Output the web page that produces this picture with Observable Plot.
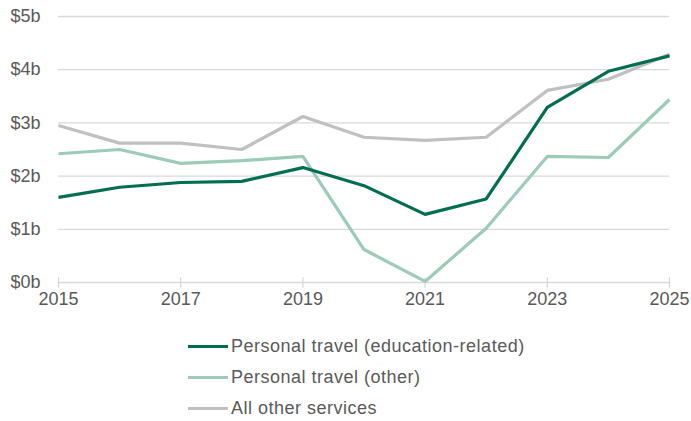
<!DOCTYPE html>
<html>
<head>
<meta charset="utf-8">
<script src="https://cdn.jsdelivr.net/npm/d3@7"></script>
<script src="https://cdn.jsdelivr.net/npm/@observablehq/plot@0.6"></script>
<style>
  html, body { margin: 0; padding: 0; background: #fff; }
  body { width: 691px; height: 421px; overflow: hidden; font-family: "Liberation Sans", Arial, sans-serif; }
  #legend { margin-left: 188px; margin-top: 16px; color: #595959; font-size: 18px; letter-spacing: 0.5px; }
  .row { display: flex; align-items: center; height: 31px; }
  .sw { width: 40px; height: 3px; margin-right: 3px; }
</style>
</head>
<body>
<div id="chart"></div>
<div id="legend"></div>
<script>
const years = [2015, 2016, 2017, 2018, 2019, 2020, 2021, 2022, 2023, 2024, 2025];
const education = [1.60, 1.79, 1.88, 1.90, 2.16, 1.82, 1.28, 1.57, 3.29, 3.97, 4.26];
const personalOther = [2.42, 2.50, 2.24, 2.29, 2.37, 0.62, 0.02, 1.02, 2.37, 2.35, 3.44];
const allOther = [2.95, 2.62, 2.62, 2.50, 3.12, 2.73, 2.67, 2.73, 3.61, 3.82, 4.29];
const seriesNames = ["Personal travel (education-related)", "Personal travel (other)", "All other services"];
const seriesColors = ["#006e51", "#9ccbb7", "#c0c0c0"];
const yTicks = [0, 1, 2, 3, 4, 5];
const xTicks = [2015, 2017, 2019, 2021, 2023, 2025];

const seriesValues = [education, personalOther, allOther];
const data = [];
seriesValues.forEach((vals, i) => vals.forEach((v, j) => data.push({year: years[j], value: v, series: seriesNames[i]})));
const drawOrder = [2, 1, 0];

const plot = Plot.plot({
  width: 691,
  height: 315,
  marginLeft: 58,
  marginRight: 22,
  marginTop: 16,
  marginBottom: 33,
  style: {fontFamily: "'Liberation Sans', Arial, sans-serif", fontSize: "18px", color: "#595959", background: "#fff"},
  x: {domain: [2015, 2025], label: null},
  y: {domain: [0, 5], label: null},
  marks: [
    Plot.ruleY(yTicks, {stroke: "#d9d9d9", strokeWidth: 1.3}),
    Plot.link(xTicks, {x1: d => d, x2: d => d, y1: d => -0.1, y2: d => 0.1, stroke: "#d9d9d9", strokeWidth: 1.3}),
    Plot.axisY({ticks: yTicks, tickSize: 0, tickPadding: 18, tickFormat: d => `$${d}b`, fill: "#595959", fontSize: 18, label: null}),
    Plot.axisX({ticks: xTicks, tickSize: 0, tickPadding: 10, tickFormat: d => String(d), fill: "#595959", fontSize: 18, label: null}),
    ...drawOrder.map(i => Plot.line(data.filter(d => d.series === seriesNames[i]), {
      x: "year", y: "value", stroke: seriesColors[i], strokeWidth: 3.2, strokeLinejoin: "miter", strokeLinecap: "butt"
    }))
  ]
});
document.getElementById("chart").appendChild(plot);

const legend = document.getElementById("legend");
seriesNames.forEach((name, i) => {
  const row = document.createElement("div");
  row.className = "row";
  const sw = document.createElement("div");
  sw.className = "sw";
  sw.style.background = seriesColors[i];
  const label = document.createElement("span");
  label.textContent = name;
  row.appendChild(sw);
  row.appendChild(label);
  legend.appendChild(row);
});
</script>
</body>
</html>
